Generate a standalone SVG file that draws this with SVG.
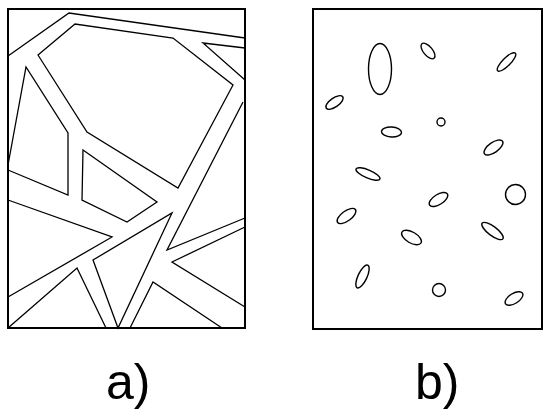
<svg xmlns="http://www.w3.org/2000/svg" width="544" height="410" viewBox="0 0 544 410">
<style>
.frame{fill:none;stroke:#000;stroke-width:2}
.ln{fill:none;stroke:#000;stroke-width:1.3;stroke-linejoin:miter}
.el{fill:none;stroke:#000;stroke-width:1.4}
.lbl{font-family:"Liberation Sans",Arial,sans-serif;font-size:50px;fill:#000}
</style>
<rect width="544" height="410" fill="#fff"/>
<g id="panel-a">
<rect class="frame" x="8" y="9" width="237" height="319"/>
<polyline class="ln" points="8,56 69,13 245,38"/>
<polygon class="ln" points="38,55 75,24 173,38 233,85 178,188 87,132"/>
<polyline class="ln" points="245,48 203,43 245,80"/>
<polyline class="ln" points="8,165 26,67 68,133 68,195 8,170"/>
<polygon class="ln" points="83,150 157,202 127,222 82,200"/>
<polyline class="ln" points="8,200 112,237 8,297"/>
<polyline class="ln" points="8,328 77,268 106,328"/>
<polygon class="ln" points="93,260 172,213 118,328"/>
<polyline class="ln" points="130,328 153,282 222,328"/>
<polyline class="ln" points="243,102 167,250 245,218"/>
<polyline class="ln" points="245,227 172,262 245,307"/>
</g>
<g id="panel-b">
<rect class="frame" x="313" y="9" width="229" height="320"/>
<ellipse class="el" cx="380" cy="69" rx="11.5" ry="25.5"/>
<ellipse class="el" cx="428" cy="51" rx="9.5" ry="4.5" transform="rotate(50 428 51)"/>
<ellipse class="el" cx="506.5" cy="62" rx="12.5" ry="4" transform="rotate(-45 506.5 62)"/>
<ellipse class="el" cx="334.5" cy="102.5" rx="10" ry="4.5" transform="rotate(-35 334.5 102.5)"/>
<ellipse class="el" cx="391.5" cy="132" rx="10" ry="5" transform="rotate(3 391.5 132)"/>
<circle class="el" cx="441" cy="122" r="4"/>
<ellipse class="el" cx="493.5" cy="147.5" rx="11" ry="5" transform="rotate(-35 493.5 147.5)"/>
<ellipse class="el" cx="368" cy="174" rx="13" ry="4" transform="rotate(23 368 174)"/>
<ellipse class="el" cx="346.5" cy="216" rx="11" ry="5" transform="rotate(-36 346.5 216)"/>
<ellipse class="el" cx="411.5" cy="237.5" rx="11" ry="5.5" transform="rotate(30 411.5 237.5)"/>
<ellipse class="el" cx="362.5" cy="276.5" rx="12.5" ry="4.5" transform="rotate(-65 362.5 276.5)"/>
<ellipse class="el" cx="438.5" cy="199.5" rx="10.5" ry="5" transform="rotate(-32 438.5 199.5)"/>
<circle class="el" cx="515.5" cy="194.5" r="10"/>
<ellipse class="el" cx="492.5" cy="231" rx="13" ry="4.5" transform="rotate(37 492.5 231)"/>
<circle class="el" cx="439" cy="290" r="6.5"/>
<ellipse class="el" cx="514" cy="298.5" rx="10" ry="5" transform="rotate(-32 514 298.5)"/>
</g>
<g id="labels">
<text class="lbl" x="106" y="399">a)</text>
<text class="lbl" x="415" y="399">b)</text>
</g>
</svg>
